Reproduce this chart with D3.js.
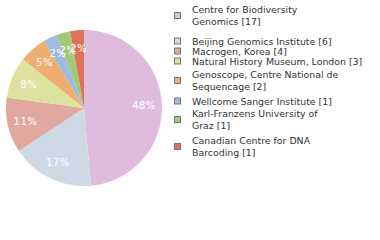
<!DOCTYPE html>
<html><head><meta charset="utf-8">
<script src="https://cdn.jsdelivr.net/npm/d3@7"></script>
<style>body{margin:0;background:#fff}svg{display:block}text{font-family:"DejaVu Sans",sans-serif}</style>
</head><body><svg id="c" width="380" height="240"></svg>
<script>
const categories = ["Centre for Biodiversity Genomics","Beijing Genomics Institute","Macrogen, Korea","Natural History Museum, London","Genoscope, Centre National de Sequencage","Wellcome Sanger Institute","Karl-Franzens University of Graz","Canadian Centre for DNA Barcoding"];
const counts = [17,6,4,3,2,1,1,1];
const colors = ["#dfbbdd","#cdd9e5","#e0a89e","#dde39e","#efad72","#9ebbe0","#a2c97a","#de7158"];
const legendLines = [["Centre for Biodiversity","Genomics [17]"],["Beijing Genomics Institute [6]"],["Macrogen, Korea [4]"],["Natural History Museum, London [3]"],["Genoscope, Centre National de","Sequencage [2]"],["Wellcome Sanger Institute [1]"],["Karl-Franzens University of","Graz [1]"],["Canadian Centre for DNA","Barcoding [1]"]];

const svg = d3.select("#c");
const cx = 84, cy = 108, r = 78;
const total = d3.sum(counts);
const pie = d3.pie().sort(null).value(d => d)(counts);
const arc = d3.arc().innerRadius(0).outerRadius(r);
const labelArc = d3.arc().innerRadius(r*0.77).outerRadius(r*0.77);
const g = svg.append("g").attr("transform", `translate(${cx},${cy})`);
g.selectAll("path").data(pie).join("path").attr("d", arc).attr("fill", (d,i) => colors[i]);
g.selectAll("text").data(pie).join("text")
  .attr("transform", d => `translate(${labelArc.centroid(d)})`)
  .attr("text-anchor","middle").attr("dy","0.35em")
  .attr("fill","#fff").attr("font-size",10).attr("letter-spacing",0.5)
  .text(d => Math.floor(d.value/total*100) + "%");

// legend layout
const firstLineY = [10,41.5,51.5,61.5,75,101.5,114,141];
const lh = 12;
const lg = svg.append("g");
legendLines.forEach((lines,i) => {
  const y0 = firstLineY[i];
  const mid = y0 + (lines.length-1)*lh/2;
  lg.append("rect").attr("x",174.5).attr("y",mid-3.5).attr("width",6).attr("height",6)
    .attr("fill",colors[i]).attr("stroke","#777").attr("stroke-width",1);
  lines.forEach((t,j) => {
    lg.append("text").attr("x",192).attr("y",y0 + j*lh).attr("dy","0.35em")
      .attr("font-size",9.4).attr("fill","#333").text(t);
  });
});
</script></body></html>
